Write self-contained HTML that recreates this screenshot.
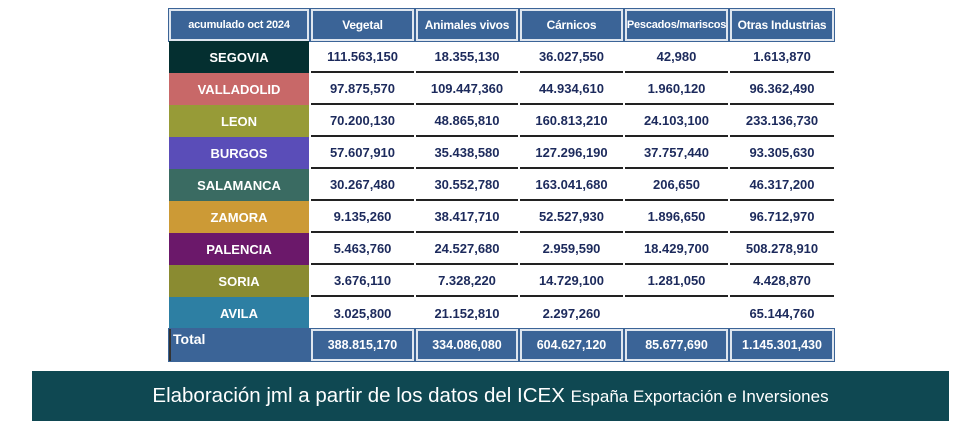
<!DOCTYPE html>
<html><head><meta charset="utf-8"><style>
body{margin:0;width:977px;height:423px;background:#fff;position:relative;overflow:hidden;font-family:"Liberation Sans",sans-serif}
.c{position:absolute;display:flex;align-items:center;justify-content:center;font-weight:bold;box-sizing:border-box;white-space:nowrap}
.h{background:#3b6497;color:#fff;font-size:12px;outline:1px solid #3b6497;border:2px solid #dfe6ef;letter-spacing:-0.2px}
.l{color:#fff;font-size:13px}
.d{color:#1c2a5c;font-size:13px;border-bottom:2px solid #222}
.t{background:#3b6497;color:#fff;font-size:12.5px;border:2px solid #dfe6ef;outline:1px solid #3b6497}
#foot{position:absolute;left:32px;top:371px;width:917px;height:50px;background:#0f4852;color:#fff;font-size:20.5px;display:flex;align-items:center;justify-content:center;font-weight:300}
</style></head><body>
<div id="tbl"></div>
<div id="foot"><span>Elaboración jml a partir de los datos del ICEX&nbsp;<span style="font-size:17px">España Exportación e Inversiones</span></span></div>
<script>
const headers=["acumulado oct 2024","Vegetal","Animales vivos","Cárnicos","Pescados/mariscos","Otras Industrias"];
const provinces=["SEGOVIA","VALLADOLID","LEON","BURGOS","SALAMANCA","ZAMORA","PALENCIA","SORIA","AVILA"];
const vegetal=["111.563,150","97.875,570","70.200,130","57.607,910","30.267,480","9.135,260","5.463,760","3.676,110","3.025,800"];
const animales=["18.355,130","109.447,360","48.865,810","35.438,580","30.552,780","38.417,710","24.527,680","7.328,220","21.152,810"];
const carnicos=["36.027,550","44.934,610","160.813,210","127.296,190","163.041,680","52.527,930","2.959,590","14.729,100","2.297,260"];
const pescados=["42,980","1.960,120","24.103,100","37.757,440","206,650","1.896,650","18.429,700","1.281,050",""];
const otras=["1.613,870","96.362,490","233.136,730","93.305,630","46.317,200","96.712,970","508.278,910","4.428,870","65.144,760"];
const totals=["388.815,170","334.086,080","604.627,120","85.677,690","1.145.301,430"];
const colors=["#042f30","#c86868","#979b37","#5a4db8","#3a6b62","#cc9a36","#6b186a","#8a8b31","#2d7fa3"];
const cols=[[169,140],[311,103],[416,102],[520,103],[625,103],[730,104]];
const tbl=document.getElementById('tbl');
function cell(cls,x,y,w,h,txt,name){const e=document.createElement('div');e.className='c '+cls;
e.style.cssText=`left:${x}px;top:${y}px;width:${w}px;height:${h}px`;e.textContent=txt;


tbl.appendChild(e);return e;}
headers.forEach((h,i)=>{const c=cell('h',cols[i][0],9,cols[i][1],32,h,'header-'+i);if(i==0)c.style.fontSize='11px';if(i==4)c.style.fontSize='11px';});
const series=[vegetal,animales,carnicos,pescados,otras];
provinces.forEach((p,r)=>{const y=41+r*32;
 const l=cell('l',169,y,140,32,p,'row-label-'+p.toLowerCase());l.style.background=colors[r];
 series.forEach((s,j)=>{const d=cell('d',cols[j+1][0],y,cols[j+1][1],32,s[r],'cell-'+p.toLowerCase()+'-'+j);if(r==8)d.style.borderBottom='none';});
});
const tl=cell('t',169,329,140,32,'Total','total-label');tl.style.cssText+=';justify-content:flex-start;align-items:flex-start;padding:2px 2px;font-size:14px;border:none;border-left:2px solid #333';
totals.forEach((t,j)=>cell('t',cols[j+1][0],329,cols[j+1][1],32,t,'total-'+j));
</script>
</body></html>
